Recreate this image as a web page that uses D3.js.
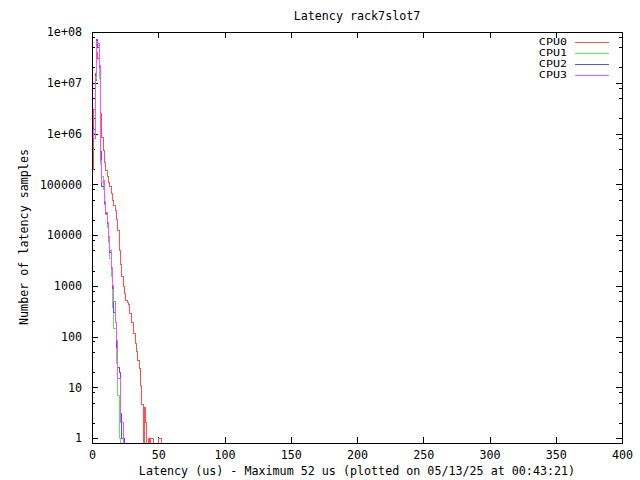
<!DOCTYPE html>
<html><head><meta charset="utf-8">
<script src="https://cdn.jsdelivr.net/npm/d3@7/dist/d3.min.js"></script>
<style>
body{margin:0;background:#fff;}
svg text{font-family:"DejaVu Sans Mono",monospace;font-size:11.7px;fill:#000;}
</style></head>
<body>
<svg id="c" width="640" height="480"></svg>
<script>
const seriesNames = ["CPU0","CPU1","CPU2","CPU3"];
const seriesColors = ["#ff5050","#50f050","#5050ff","#ff50ff"];
// counts per 1-us latency bin, starting at 0 us
const cpu0 = [600,2e5,3e6,1.1e7,4e7,3e7,1.6e7,2.5e6,8.5e5,4.7e5,2.7e5,1.9e5,1.4e5,1.1e5,9e4,6.5e4,4.9e4,3.8e4,3.1e4,2e4,
  1.25e4,5e3,2.6e3,1.5e3,950,720,525,460,420,290,190,185,117,74,50,34,24,11,4.5,0,4,2,0,1,0,1,1,0,0,0,0,1,1];
const cpu1 = [400,9e5,1e6,1.2e7,6e7,5.5e7,1.2e7,2.5e5,1.4e5,8e4,4e4,2.5e4,1.4e4,7e3,3.5e3,1.5e3,380,147,147,30,7,1,0];
const cpu2 = [500,1.4e6,1.2e6,1.5e7,7e7,5e7,2e7,4.5e5,9e4,9e4,4.2e4,2.7e4,1.7e4,9e3,4.5e3,2.2e3,900,300,190,60,25,20,3,1,1,0];
const cpu3 = [600,1.2e6,8e5,1.3e7,6.5e7,6e7,2.2e7,3e5,1.1e5,1.2e5,4.5e4,2.8e4,1.8e4,9.5e3,5e3,2.3e3,1e3,480,185,85,15,15,2,2,0];
const xTicks = [0,50,100,150,200,250,300,350,400];
const yTicks = [1,10,100,1000,10000,100000,1e6,1e7,1e8];
const yTickLabels = ["1","10","100","1000","10000","100000","1e+06","1e+07","1e+08"];
const titleText = "Latency rack7slot7";
const xLabel = "Latency (us) - Maximum 52 us (plotted on 05/13/25 at 00:43:21)";
const yLabel = "Number of latency samples";

const L=92, R=622, T=32, B=443;
const svg = d3.select("#c");
const x = d3.scaleLinear().domain([0,400]).range([L,R]);
const y = d3.scaleLog().domain([0.8,1e8]).range([B,T]);

const yMinor = [];
for (let e=0;e<8;e++) for (const m of [2,5,8]) yMinor.push(m*Math.pow(10,e));

function styleAxis(g){ g.select(".domain").remove(); g.selectAll("line").attr("stroke","#000").attr("shape-rendering","crispEdges"); g.selectAll("text").attr("font-family",null).attr("font-size",null); }

svg.append("g").attr("transform",`translate(${L},0)`)
  .call(d3.axisLeft(y).tickValues(yTicks).tickSize(-6).tickPadding(10).tickFormat((d,i)=>yTickLabels[i]))
  .call(styleAxis);
svg.append("g").attr("transform",`translate(${L},0)`)
  .call(d3.axisLeft(y).tickValues(yMinor).tickSize(-3).tickFormat(""))
  .call(styleAxis);
svg.append("g").attr("transform",`translate(${R},0)`)
  .call(d3.axisRight(y).tickValues(yTicks).tickSize(-6).tickFormat(""))
  .call(styleAxis);
svg.append("g").attr("transform",`translate(${R},0)`)
  .call(d3.axisRight(y).tickValues(yMinor).tickSize(-3).tickFormat(""))
  .call(styleAxis);
svg.append("g").attr("transform",`translate(0,${B})`)
  .call(d3.axisBottom(x).tickValues(xTicks).tickSize(-6).tickPadding(8).tickFormat(d3.format("d")))
  .call(styleAxis);
svg.append("g").attr("transform",`translate(0,${T})`)
  .call(d3.axisTop(x).tickValues(xTicks).tickSize(-6).tickFormat(""))
  .call(styleAxis);

svg.append("defs").append("clipPath").attr("id","clip")
  .append("rect").attr("x",L).attr("y",T).attr("width",R-L).attr("height",B-T+1);

function stepPath(vals){
  const yy = v => v>0 ? y(Math.max(v,0.8)) : B;
  let d = `M${x(-0.5)},${B}`;
  vals.forEach((v,i)=>{ d += `L${x(i-0.5)},${yy(v)}L${x(i+0.5)},${yy(v)}`; });
  d += `L${x(vals.length-0.5)},${B}`;
  return d;
}
const all = [cpu0,cpu1,cpu2,cpu3];
const plot = svg.append("g").attr("clip-path","url(#clip)");
all.forEach((vals,k)=>{
  plot.append("path").attr("d",stepPath(vals)).attr("fill","none")
    .attr("stroke",seriesColors[k]).attr("stroke-width",1).attr("shape-rendering","crispEdges");
});

svg.append("rect").attr("x",L).attr("y",T).attr("width",R-L).attr("height",B-T)
  .attr("fill","none").attr("stroke","#000").attr("shape-rendering","crispEdges");

// legend
const leg = svg.append("g");
seriesNames.forEach((n,k)=>{
  const yy = 42 + k*11;
  leg.append("text").attr("transform",`translate(567,${yy}) scale(1,0.8)`).attr("dy","0.35em")
    .attr("text-anchor","end").text(n);
  leg.append("line").attr("x1",575).attr("x2",609).attr("y1",yy).attr("y2",yy)
    .attr("stroke",seriesColors[k]).attr("shape-rendering","crispEdges");
});

svg.append("text").attr("x",(L+R)/2).attr("y",16).attr("dy","0.35em").attr("text-anchor","middle").text(titleText);
svg.append("text").attr("x",(L+R)/2).attr("y",471).attr("dy","0.35em").attr("text-anchor","middle").text(xLabel);
svg.append("text").attr("transform","translate(24,237) rotate(-90)").attr("dy","0.35em").attr("text-anchor","middle").text(yLabel);
</script>
</body></html>
